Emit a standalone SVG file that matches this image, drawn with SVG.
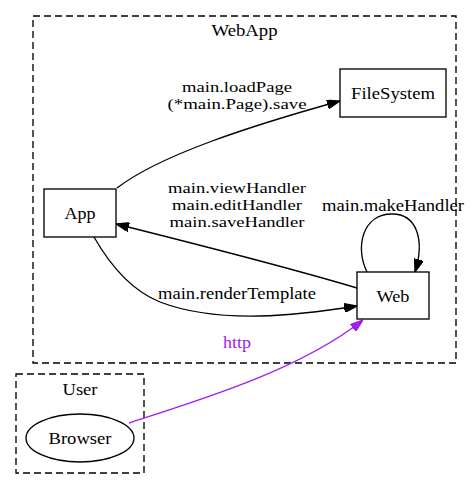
<svg xmlns="http://www.w3.org/2000/svg" width="472" height="489" viewBox="0 0 472 489">
<defs>
<marker id="ah" viewBox="0 0 10 7" refX="10" refY="3.5" markerWidth="13" markerHeight="9" markerUnits="userSpaceOnUse" orient="auto" preserveAspectRatio="none">
<polygon points="0,0 10,3.5 0,7" fill="#000" stroke="#000"/>
</marker>
<marker id="ahp" viewBox="0 0 10 7" refX="10" refY="3.5" markerWidth="13" markerHeight="9" markerUnits="userSpaceOnUse" orient="auto" preserveAspectRatio="none">
<polygon points="0,0 10,3.5 0,7" fill="#a020f0" stroke="#a020f0"/>
</marker>
</defs>
<style>
.cl{fill:none;stroke:#000;stroke-width:1.33;stroke-dasharray:7,4}
.nd{fill:#fff;stroke:#000;stroke-width:1.33}
.e{fill:none;stroke:#000;stroke-width:1.33;marker-end:url(#ah)}
</style>
<rect width="472" height="489" fill="#fff"/>
<g font-family="Liberation Serif, Times New Roman, DejaVu Serif, serif" font-size="16.5" text-anchor="middle">
<g id="cluster_WebApp">
<rect class="cl" x="33" y="16" width="423" height="347"/>
<text x="244.5" y="36" textLength="66" lengthAdjust="spacingAndGlyphs">WebApp</text>
</g>
<g id="cluster_User">
<rect class="cl" x="16" y="374" width="128" height="99"/>
<text x="80" y="395" textLength="35" lengthAdjust="spacingAndGlyphs">User</text>
</g>
<g id="edges">
<path class="e" d="M117,188 C160,155 250,126 340,101"/>
<text x="237" y="92" font-size="14.5" textLength="110" lengthAdjust="spacingAndGlyphs">main.loadPage</text>
<text x="237" y="109" font-size="14.5" textLength="139" lengthAdjust="spacingAndGlyphs">(*main.Page).save</text>
<path class="e" d="M357,288 C290,268 180,240 116,224"/>
<text x="237" y="193" font-size="14.5" textLength="138" lengthAdjust="spacingAndGlyphs">main.viewHandler</text>
<text x="237" y="210" font-size="14.5" textLength="130" lengthAdjust="spacingAndGlyphs">main.editHandler</text>
<text x="237" y="227" font-size="14.5" textLength="135" lengthAdjust="spacingAndGlyphs">main.saveHandler</text>
<path class="e" d="M94,237 C110,265 130,290 160,302 C220,325 300,315 357,306"/>
<text x="237" y="299" textLength="158" lengthAdjust="spacingAndGlyphs">main.renderTemplate</text>
<path class="e" d="M367,272 C355,248 362,214 392,214 C417,214 425,240 415,272"/>
<text x="393" y="211" textLength="142" lengthAdjust="spacingAndGlyphs">main.makeHandler</text>
<path d="M129,423 C200,400 300,370 363,320" fill="none" stroke="#a020f0" stroke-width="1.33" marker-end="url(#ahp)"/>
<text x="237" y="348" fill="#a020f0" textLength="28" lengthAdjust="spacingAndGlyphs">http</text>
</g>
<g id="FileSystem">
<rect class="nd" x="340" y="69" width="106" height="48"/>
<text x="393" y="99" textLength="84" lengthAdjust="spacingAndGlyphs">FileSystem</text>
</g>
<g id="App">
<rect class="nd" x="44" y="189" width="72" height="48"/>
<text x="80" y="219" textLength="31" lengthAdjust="spacingAndGlyphs">App</text>
</g>
<g id="Web">
<rect class="nd" x="357" y="272" width="72" height="47"/>
<text x="393" y="302" textLength="33" lengthAdjust="spacingAndGlyphs">Web</text>
</g>
<g id="Browser">
<ellipse class="nd" cx="80" cy="438" rx="54" ry="24"/>
<text x="80" y="444" textLength="63" lengthAdjust="spacingAndGlyphs">Browser</text>
</g>
</g>
</svg>
